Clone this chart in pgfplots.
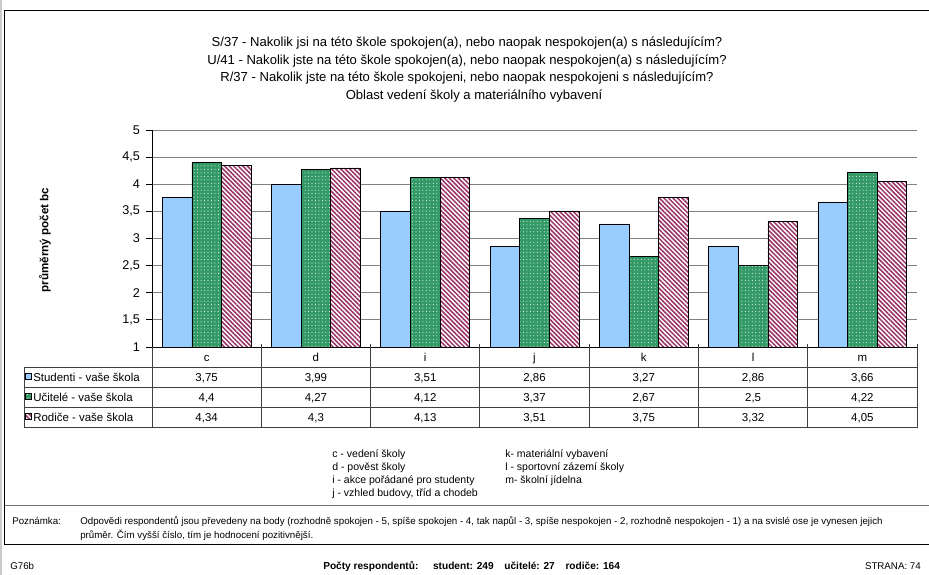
\documentclass[border=0pt]{standalone}
\usepackage{fontspec}
\setmainfont{Liberation Sans}
\usepackage{pgfplots}
\pgfplotsset{compat=1.18}
\usetikzlibrary{patterns.meta}
\definecolor{stud}{HTML}{99CCFF}
\definecolor{ucit}{HTML}{339966}
\definecolor{rodic}{HTML}{993366}
\tikzset{
  studfill/.style={fill=stud},
  ucitfill/.style={pattern={Dots[distance=2.6pt,radius=0.38pt]},pattern color=white,preaction={fill=ucit}},
  rodfill/.style={pattern={Lines[angle=-45,distance=2.4pt,line width=1.15pt]},pattern color=rodic,preaction={fill=white}},
}
\begin{document}
\begin{tikzpicture}
\path[use as bounding box] (0,0) rectangle (696.75pt,-431.25pt);
\begin{axis}[
  at={(114pt,-260.25pt)}, anchor=south west,
  width=573.75pt, height=162.75pt, scale only axis,
  ymin=1, ymax=5, xmin=-0.5, xmax=6.5,
  ybar=0pt, bar width=22.2pt,
  axis lines*=left,
  axis line style={black, line width=0.75pt},
  xtick=\empty,
  ytick={1,1.5,2,2.5,3,3.5,4,4.5,5},
  tick align=outside, major tick length=4.5pt,
  tick style={black, line width=0.6pt},
  ymajorgrids, grid style={black!50, line width=0.6pt},
  /pgf/number format/assume math mode=true,
  /pgf/number format/use comma,
  yticklabel style={font=\fontsize{9.5pt}{11pt}\selectfont, xshift=-1pt},
  clip=false,
]
\addplot[draw=black, line width=0.5pt, studfill] coordinates {(0,3.75) (1,3.99) (2,3.51) (3,2.86) (4,3.27) (5,2.86) (6,3.66)};
\addplot[draw=black, line width=0.5pt, ucitfill] coordinates {(0,4.4) (1,4.27) (2,4.12) (3,3.37) (4,2.67) (5,2.5) (6,4.22)};
\addplot[draw=black, line width=0.5pt, rodfill] coordinates {(0,4.34) (1,4.3) (2,4.13) (3,3.51) (4,3.75) (5,3.32) (6,4.05)};
\end{axis}
\begin{scope}[x=0.75pt,y=-0.75pt]
  % outer frame
  \draw[black!20, line width=1.5pt] (1,0) -- (1,575);
  \draw[black, line width=0.9pt] (4.5,544.5) -- (4.5,10.5) -- (929,10.5);
  \draw[black!55, line width=0.75pt] (4.5,505) -- (929,505);
  \draw[black, line width=0.9pt] (4.5,544.5) -- (929,544.5);
  % title
  \begin{scope}[font=\fontsize{9.8pt}{11pt}\selectfont]
    \node[anchor=base] at (467,46.5) {S/37 - Nakolik jsi na této škole spokojen(a), nebo naopak nespokojen(a) s následujícím?};
    \node[anchor=base] at (467,64) {U/41 - Nakolik jste na této škole spokojen(a), nebo naopak nespokojen(a) s následujícím?};
    \node[anchor=base] at (467,81.5) {R/37 - Nakolik jste na této škole spokojeni, nebo naopak nespokojeni s následujícím?};
    \node[anchor=base] at (474,99) {Oblast vedení školy a materiálního vybavení};
  \end{scope}
  % y label
  \node[rotate=90, font=\fontsize{8.7pt}{10pt}\selectfont\bfseries] at (45,240) {průměrný počet bc};
  % data table
  \begin{scope}[black!75, line width=0.6pt]
    \foreach \k in {1,...,7} \draw ({152+\k*109.29},344) -- ({152+\k*109.29},427.5);
    \draw (152,347) -- (152,427.5);
    \draw (24,367.5) -- (24,427.5);
    \foreach \yy in {367.5,387.5,407.5,427.5} \draw (24,\yy) -- (917,\yy);
  \end{scope}
  \begin{scope}[font=\fontsize{8.6pt}{10pt}\selectfont]
    \foreach \c [count=\i from 0] in {c,d,i,j,k,l,m}
      \node[anchor=base] at ({152+109.29*(\i+0.5)},361) {\c};
    \foreach \v [count=\i from 0] in {{3,75},{3,99},{3,51},{2,86},{3,27},{2,86},{3,66}}
      \node[anchor=base] at ({152+109.29*(\i+0.5)},381) {\v};
    \foreach \v [count=\i from 0] in {{4,4},{4,27},{4,12},{3,37},{2,67},{2,5},{4,22}}
      \node[anchor=base] at ({152+109.29*(\i+0.5)},401) {\v};
    \foreach \v [count=\i from 0] in {{4,34},{4,3},{4,13},{3,51},{3,75},{3,32},{4,05}}
      \node[anchor=base] at ({152+109.29*(\i+0.5)},421) {\v};
    \node[anchor=base west, inner sep=0pt] at (33,381) {Studenti - vaše škola};
    \node[anchor=base west, inner sep=0pt] at (33,401) {Učitelé - vaše škola};
    \node[anchor=base west, inner sep=0pt] at (33,421) {Rodiče - vaše škola};
  \end{scope}
  \draw[black, line width=0.5pt, studfill] (25.5,373) rectangle (31.5,379);
  \draw[black, line width=0.5pt, ucitfill] (25.5,393) rectangle (31.5,399);
  \draw[black, line width=0.5pt, rodfill] (25.5,413) rectangle (31.5,419);
  % category legend
  \begin{scope}[font=\fontsize{7.9pt}{9pt}\selectfont]
    \node[anchor=base west, inner sep=0pt] at (332,457) {c - vedení školy};
    \node[anchor=base west, inner sep=0pt] at (332,470) {d - pověst školy};
    \node[anchor=base west, inner sep=0pt] at (332,483) {i - akce pořádané pro studenty};
    \node[anchor=base west, inner sep=0pt] at (332,496) {j - vzhled budovy, tříd a chodeb};
    \node[anchor=base west, inner sep=0pt] at (505,457) {k- materiální vybavení};
    \node[anchor=base west, inner sep=0pt] at (505,470) {l - sportovní zázemí školy};
    \node[anchor=base west, inner sep=0pt] at (505,483) {m- školní jídelna};
  \end{scope}
  % note
  \begin{scope}[font=\fontsize{7.3pt}{9pt}\selectfont]
    \node[anchor=base west, inner sep=0pt] at (12,524) {Poznámka:};
    \node[anchor=base west, inner sep=0pt] at (80,524) {Odpovědi respondentů jsou převedeny na body (rozhodně spokojen - 5, spíše spokojen - 4, tak napůl - 3, spíše nespokojen - 2, rozhodně nespokojen - 1) a na svislé ose je vynesen jejich};
    \node[anchor=base west, inner sep=0pt] at (80,538) {průměr. Čím vyšší číslo, tím je hodnocení pozitivnější.};
    \node[anchor=base west, inner sep=0pt] at (10,569) {G76b};
    \node[anchor=base east, inner sep=0pt] at (921,569) {STRANA: 74};
  \end{scope}
  \node[anchor=base west, inner sep=0pt, font=\fontsize{7.6pt}{9pt}\selectfont\bfseries] at (323,569)
    {Počty respondentů:\hspace{11pt}student: 249\hspace{8pt}učitelé: 27\hspace{8pt}rodiče: 164};
\end{scope}
\end{tikzpicture}
\end{document}
